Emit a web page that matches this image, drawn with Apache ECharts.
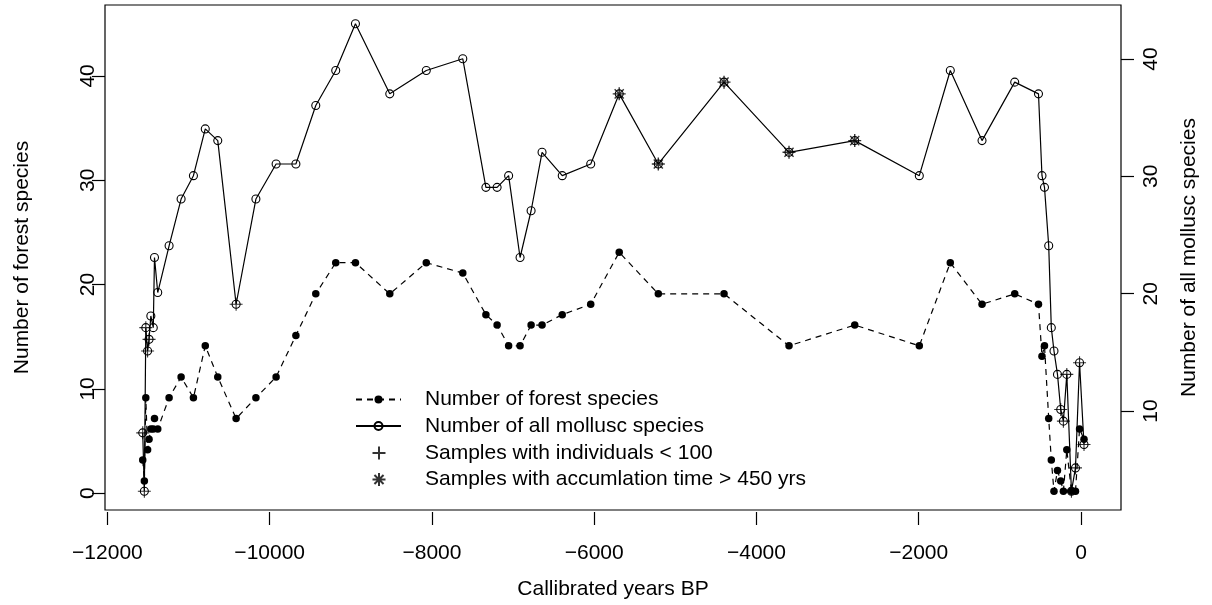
<!DOCTYPE html>
<html>
<head>
<meta charset="utf-8">
<script src="https://cdn.jsdelivr.net/npm/echarts@6/dist/echarts.min.js"></script>
<style>
html,body{margin:0;padding:0;background:#fff;}
#chart{width:1212px;height:605px;}
</style>
</head>
<body>
<div id="chart"></div>
<script>
// ---- data ----
var years = [-11565,-11545,-11527,-11505,-11487,-11465,-11435,-11420,-11380,
  -11240,-11092,-10940,-10794,-10640,-10414,-10170,-9921,-9677,-9432,-9186,-8943,-8520,-8070,-7620,
  -7335,-7197,-7055,-6914,-6778,-6643,-6394,-6043,-5692,-5210,-4400,-3599,-2789,-1993,-1611,-1220,-817,
  -524,-481,-450,-398,-366,-333,-290,-250,-217,-175,-118,-68,-18,37];
var forestSpecies = [3,1,9,4,5,6,6,7,6,
  9,11,9,14,11,7,9,11,15,19,22,22,19,22,21,17,16,14,14,16,16,17,18,23,19,19,14,16,14,22,18,19,
  18,13,14,7,3,0,2,1,0,4,0,0,6,5];
var allSpecies = [8,3,17,15,16,18,17,23,20,
  24,28,30,34,33,19,28,31,31,36,39,43,37,39,40,29,29,30,23,27,32,30,31,37,31,38,32,33,30,39,33,38,
  37,30,29,24,17,15,13,10,9,13,3,5,14,7];
var lowIndividualsIdx = [0,1,2,3,4,14,48,49,50,51,52,53,54];
var longAccumIdx = [32,33,34,35,36];
// tick ranges (first, last, step)
var xTickRange = [-12000, 0, 2000];
var leftTickRange = [0, 40, 10];
var rightTickRange = [10, 40, 10];
// plotted ranges
var xRange = [-12030, 493];
var leftRange = [-1.8, 46.8];
var rightRange = [1.4, 44.6];
var names = ['Number of forest species','Number of all mollusc species',
  'Samples with individuals < 100','Samples with accumlation time > 450 yrs'];
var xTitle = 'Callibrated years BP';

var FONT = 'Liberation Sans, Arial, sans-serif';
var FS = 21;

var forestData = years.map(function(y,i){return [y, forestSpecies[i]];});
var allData = years.map(function(y,i){return [y, allSpecies[i]];});
var lowData = lowIndividualsIdx.map(function(i){return [years[i], allSpecies[i]];});
var longData = longAccumIdx.map(function(i){return [years[i], allSpecies[i]];});

// main plot box
var BOX = {left:105, right:91, top:5, bottom:93};
var W = 1212, H = 605;
var boxW = W - BOX.left - BOX.right, boxH = H - BOX.top - BOX.bottom;
function xPix(v){ return BOX.left + (v - xRange[0]) / (xRange[1] - xRange[0]) * boxW; }
function yPixL(v){ return H - BOX.bottom - (v - leftRange[0]) / (leftRange[1] - leftRange[0]) * boxH; }
function yPixR(v){ return H - BOX.bottom - (v - rightRange[0]) / (rightRange[1] - rightRange[0]) * boxH; }

var lblStyle = {fontSize:FS, color:'#000', fontFamily:FONT};
var noLine = {show:false, onZero:false};
var tickStyle = {show:true, inside:false, length:13, lineStyle:{color:'#000', width:1.2}};
var hiddenAxis = function(grid){
  return {type:'value', gridIndex:grid, show:false, min:0, max:1, axisLine:noLine};
};

var chart = echarts.init(document.getElementById('chart'), null, {renderer:'canvas'});
chart.setOption({
  animation:false,
  backgroundColor:'#fff',
  textStyle:{fontFamily:FONT},
  grid:[
    {left:BOX.left, right:BOX.right, top:BOX.top, bottom:BOX.bottom, show:true, borderColor:'#000', borderWidth:1.2, backgroundColor:'transparent'},
    // x tick axis: spans -12000..0
    {left:xPix(xTickRange[0]), right:W - xPix(xTickRange[1]), top:BOX.top, bottom:BOX.bottom},
    // left tick axis: spans 0..40
    {left:BOX.left, right:BOX.right, top:yPixL(leftTickRange[1]), bottom:H - yPixL(leftTickRange[0])},
    // right tick axis: spans 10..40
    {left:BOX.left, right:BOX.right, top:yPixR(rightTickRange[1]), bottom:H - yPixR(rightTickRange[0])}
  ],
  xAxis:[
    {type:'value', gridIndex:0, min:xRange[0], max:xRange[1],
     name:xTitle, nameLocation:'middle', nameGap:69, nameTextStyle:lblStyle,
     axisLine:noLine, axisTick:{show:false}, axisLabel:{show:false}, splitLine:{show:false}},
    {type:'value', gridIndex:1, position:'bottom', min:xTickRange[0], max:xTickRange[1], interval:xTickRange[2],
     axisLine:noLine, splitLine:{show:false}, axisTick:tickStyle,
     axisLabel:Object.assign({margin:31, showMinLabel:true, showMaxLabel:true,
        formatter:function(v){return v<0 ? '\u2212'+Math.abs(v) : String(v);}}, lblStyle)},
    hiddenAxis(2), hiddenAxis(3)
  ],
  yAxis:[
    {type:'value', gridIndex:0, position:'left', min:leftRange[0], max:leftRange[1],
     name:names[0], nameLocation:'middle', nameRotate:90, nameGap:72, nameTextStyle:lblStyle,
     axisLine:noLine, axisTick:{show:false}, axisLabel:{show:false}, splitLine:{show:false}},
    {type:'value', gridIndex:0, position:'right', min:rightRange[0], max:rightRange[1],
     name:names[1], nameLocation:'middle', nameRotate:90, nameGap:58, nameTextStyle:lblStyle,
     axisLine:noLine, axisTick:{show:false}, axisLabel:{show:false}, splitLine:{show:false}},
    hiddenAxis(1),
    {type:'value', gridIndex:2, position:'left', min:leftTickRange[0], max:leftTickRange[1], interval:leftTickRange[2],
     axisLine:noLine, splitLine:{show:false}, axisTick:tickStyle,
     axisLabel:Object.assign({rotate:90, margin:6, showMinLabel:true, showMaxLabel:true}, lblStyle)},
    {type:'value', gridIndex:3, position:'right', min:rightTickRange[0], max:rightTickRange[1], interval:rightTickRange[2],
     axisLine:noLine, splitLine:{show:false}, axisTick:tickStyle,
     axisLabel:Object.assign({rotate:90, margin:20, showMinLabel:true, showMaxLabel:true}, lblStyle)}
  ],
  legend:[{
    data:[names[0], names[1]],
    orient:'vertical', left:355, top:389, padding:0,
    itemWidth:45, itemHeight:10, itemGap:5.5,
    textStyle:{fontSize:FS, color:'#000', fontFamily:FONT, lineHeight:21, padding:[0,0,0,19]}
  },{
    data:[names[2], names[3]],
    orient:'vertical', left:371.5, top:442.5, padding:0,
    itemWidth:13, itemHeight:13, itemGap:5.5,
    textStyle:{fontSize:FS, color:'#000', fontFamily:FONT, lineHeight:21, padding:[0,0,0,34.5]}
  }],
  series:[{
    name:names[0], type:'line', xAxisIndex:0, yAxisIndex:0, data:forestData,
    symbol:'circle', symbolSize:7.5,
    itemStyle:{color:'#000'},
    lineStyle:{color:'#000', width:1.2, type:[6,5]},
    z:2
  },{
    name:names[1], type:'line', xAxisIndex:0, yAxisIndex:1, data:allData,
    symbol:'circle', symbolSize:8,
    itemStyle:{color:'transparent', borderColor:'#000', borderWidth:1.1},
    lineStyle:{color:'#000', width:1.2},
    z:3
  },{
    name:names[2], type:'scatter', xAxisIndex:0, yAxisIndex:1, data:lowData,
    symbol:'path://M0,5L10,5M5,0L5,10', symbolSize:13,
    itemStyle:{color:'transparent', borderColor:'#000', borderWidth:1.1},
    z:4
  },{
    name:names[3], type:'scatter', xAxisIndex:0, yAxisIndex:1, data:longData,
    symbol:'path://M0,5L10,5M5,0L5,10M1.5,1.5L8.5,8.5M8.5,1.5L1.5,8.5', symbolSize:13,
    itemStyle:{color:'transparent', borderColor:'#000', borderWidth:1.4},
    z:4
  }]
});
</script>
</body>
</html>
